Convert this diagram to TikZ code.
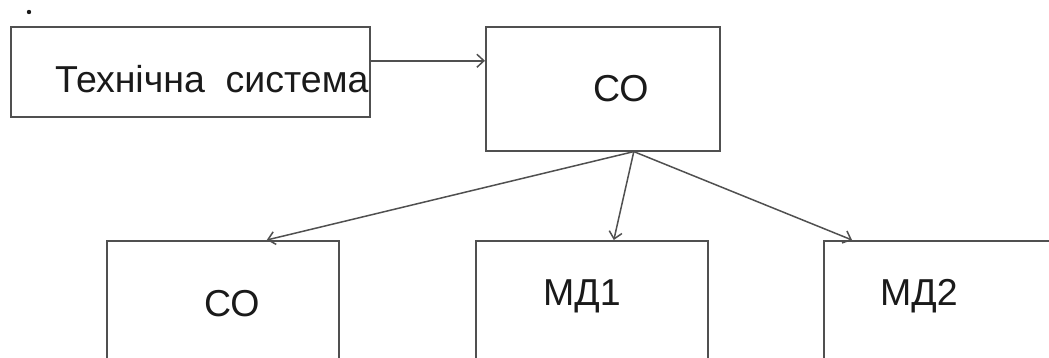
\documentclass[tikz,border=0pt]{standalone}
\usepackage{fontspec}
\setmainfont{Liberation Sans}
\usetikzlibrary{arrows.meta}
\definecolor{ln}{HTML}{505050}
\definecolor{tx}{HTML}{1A1A1A}
\tikzset{
  box/.style={draw=ln, line width=1.6pt, rectangle, inner sep=0pt, anchor=north west},
  lbl/.style={anchor=base west, inner sep=0pt, text=tx, font=\fontsize{37.5}{40}\selectfont},
  conn/.style={draw=ln, line width=1.5pt, -{Straight Barb[length=7pt,width=13pt,line width=1.5pt]}}
}
\begin{document}
\begin{tikzpicture}[x=1pt,y=-1pt]
\useasboundingbox (0,0) rectangle (1049,358);
\clip (0,0) rectangle (1049,358);
\fill[tx] (29,12) circle (2.2pt);
\node[box, minimum width=359pt, minimum height=90pt] (ts) at (10,26) {};
\node[box, minimum width=234pt, minimum height=124pt] (co) at (485,26) {};
\node[box, minimum width=232pt, minimum height=160pt] (b1) at (106,240) {};
\node[box, minimum width=232pt, minimum height=160pt] (b2) at (475,240) {};
\node[box, minimum width=232pt, minimum height=160pt] (b3) at (823,240) {};
\node[lbl] (tst) at (55,93) {Технічна\ \ система};
\node[lbl] (cot) at (593,102) {СО};
\node[lbl] (b1t) at (204,316) {СО};
\node[lbl] (b2t) at (543,305) {МД1};
\node[lbl] (b3t) at (880,305) {МД2};
\coordinate (fan) at ([xshift=31pt]co.south);
\draw[conn] ([yshift=11pt]ts.east) -- ([yshift=11pt]co.west |- ts.east);
\draw[conn] (fan) -- ([xshift=44pt]b1.north);
\draw[conn] (fan) -- ([xshift=22pt]b2.north);
\draw[conn] (fan) -- ([xshift=29pt]b3.north west);
\end{tikzpicture}
\end{document}
